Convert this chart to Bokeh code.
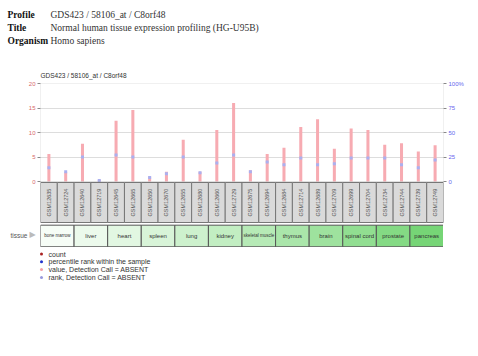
import math
from bokeh.plotting import figure
from bokeh.layouts import column, row
from bokeh.models import (ColumnDataSource, Range1d, LinearAxis, FixedTicker,
                          BoxAnnotation, Spacer)
from bokeh.core.properties import value
from bokeh.embed import file_html
from bokeh.resources import INLINE

# ---- data ----
samples = ["GSM12635", "GSM12724", "GSM12640", "GSM12719", "GSM12645", "GSM12665",
           "GSM12650", "GSM12670", "GSM12655", "GSM12680", "GSM12660", "GSM12729",
           "GSM12675", "GSM12694", "GSM12684", "GSM12714", "GSM12689", "GSM12709",
           "GSM12699", "GSM12704", "GSM12734", "GSM12744", "GSM12739", "GSM12749"]
counts = [5.6, 1.9, 7.7, 0.35, 12.4, 14.6, 1.0, 2.0, 8.5, 2.0, 10.5, 16.0,
          2.3, 5.6, 6.9, 11.1, 12.7, 6.7, 10.8, 10.5, 7.5, 7.8, 6.1, 7.4]
ranks = [14, 10, 25, 1, 27, 25, 4, 8, 25, 9, 19, 27,
         10, 20, 17, 24, 17, 18, 24, 24, 24, 17, 14, 22]
tissues = ["bone marrow", "liver", "heart", "spleen", "lung", "kidney",
           "skeletal muscle", "thymus", "brain", "spinal cord", "prostate", "pancreas"]
left_ticks = [0, 5, 10, 15, 20]
right_ticks = [0, 25, 50, 75, 100]
legend_items = ["count", "percentile rank within the sample",
                "value, Detection Call = ABSENT", "rank, Detection Call = ABSENT"]
header_keys = ["Profile", "Title", "Organism"]
header_vals = ["GDS423 / 58106_at / C8orf48",
               "Normal human tissue expression profiling (HG-U95B)", "Homo sapiens"]
chart_title = "GDS423 / 58106_at / C8orf48"

# ---- styles ----
tissue_colors = ["#f6fdf6", "#ecfaec", "#e2f7e2", "#d8f4d8", "#cdf1cd", "#c2eec2",
                 "#b6eab6", "#aae6aa", "#9ee29e", "#91de91", "#84da84", "#76d576"]
legend_colors = ["#aa2222", "#2233cc", "#f4a0a8", "#9999dd"]

W = 478
HEAD_H = 80
FRAME_L, FRAME_R = 40, 443
FRAME_T, MAIN_B = 83, 223
TIS_B = 247
ZERO_Y = 181.0
PX_PER_UNIT = (ZERO_Y - FRAME_T) / 20.0
ybot = -(MAIN_B - ZERO_Y) / PX_PER_UNIT
n = len(samples)


def blank(width, height, yr):
    f = figure(width=width, height=height, output_backend="svg", toolbar_location=None,
               x_range=Range1d(0, width), y_range=yr, min_border=0)
    f.axis.visible = False
    f.grid.visible = False
    f.outline_line_color = None
    return f


# ---- header ----
hdr = blank(W, HEAD_H, Range1d(HEAD_H, 0))
hsrc = ColumnDataSource(dict(k=header_keys, v=header_vals, y=[14, 27, 40]))
hdr.text(x=7, y="y", text="k", source=hsrc, text_font=value("Liberation Serif"),
         text_font_style="bold", text_font_size="9.5px", text_color="#111111",
         text_baseline="middle")
hdr.text(x=50, y="y", text="v", source=hsrc, text_font=value("Liberation Serif"),
         text_font_size="9.5px", text_color="#333333", text_baseline="middle")
hdr.text(x=[40], y=[74.5], text=[chart_title], text_font=value("Liberation Sans"),
         text_font_size="6.5px", text_color="#333333", text_baseline="middle")

# ---- main chart ----
p = figure(width=W, height=MAIN_B - HEAD_H, output_backend="svg", toolbar_location=None,
           x_range=Range1d(0, n), y_range=Range1d(ybot, 20),
           min_border_left=FRAME_L, min_border_right=W - FRAME_R,
           min_border_top=FRAME_T - HEAD_H, min_border_bottom=0)
p.outline_line_color = None
p.xaxis.visible = False
p.yaxis.visible = False
p.xgrid.visible = False
p.extra_y_ranges = {"pct": Range1d(ybot * 5, 100)}

for ax, col, side in ((LinearAxis(ticker=FixedTicker(ticks=left_ticks)),
                       "#d66a6a", "left"),
                      (LinearAxis(y_range_name="pct",
                                  ticker=FixedTicker(ticks=right_ticks)),
                       "#6666ee", "right")):
    ax.axis_line_color = None
    ax.major_tick_line_color = "#888888"
    ax.major_tick_in = 0
    ax.major_tick_out = 3
    ax.minor_tick_line_color = None
    ax.major_label_text_color = col
    ax.major_label_text_font = "Liberation Sans"
    ax.major_label_text_font_size = "6px"
    ax.major_label_standoff = 2
    if side == "right":
        ax.major_label_overrides = {100: "100%"}
    p.add_layout(ax, side)

p.ygrid.ticker = FixedTicker(ticks=[5, 10, 15])
p.ygrid.grid_line_color = "#dddddd"
p.add_layout(BoxAnnotation(bottom=0, top=20, fill_color=None,
                           line_color="#999999", line_width=1))

xs = [i + 0.5 for i in range(n)]
src = ColumnDataSource(dict(x=xs, count=counts, rank=ranks, name=samples,
                            left=list(range(n)), right=[i + 1 for i in range(n)]))
p.vbar(x="x", top="count", bottom=0, width=0.18, source=src,
       fill_color="#f7abb2", line_color=None)
p.scatter(x="x", y="rank", source=src, y_range_name="pct", marker="square",
          size=3, fill_color="#aab0f0", line_color=None)

box_top = -(182 - ZERO_Y) / PX_PER_UNIT
box_bot = -(222 - ZERO_Y) / PX_PER_UNIT
p.quad(left="left", right="right", top=box_top, bottom=box_bot, source=src,
       fill_color="#dadada", line_color="#777777", line_width=1)
p.text(x="x", y=(box_top + box_bot) / 2, text="name", source=src, angle=math.pi / 2,
       text_align="center", text_baseline="middle", text_color="#555555",
       text_font=value("Liberation Sans"), text_font_size="5.5px")

# ---- tissue row ----
TH = TIS_B - MAIN_B
tl = blank(FRAME_L, TH, Range1d(0, 1))
tl.text(x=[10], y=[0.5], text=["tissue"], text_font=value("Liberation Sans"),
        text_font_size="6.5px", text_color="#555555", text_baseline="middle")
tl.text(x=[29], y=[0.55], text=["\u25B6"], text_font=value("DejaVu Sans"),
        text_font_size="8px", text_color="#bbbbbb", text_baseline="middle")

tf = figure(width=FRAME_R - FRAME_L, height=TH, output_backend="svg",
            toolbar_location=None, x_range=p.x_range, y_range=Range1d(0, 1),
            min_border=0)
tf.axis.visible = False
tf.grid.visible = False
tf.outline_line_color = None
tsrc = ColumnDataSource(dict(
    left=[2 * k for k in range(len(tissues))],
    right=[2 * k + 2 for k in range(len(tissues))],
    xc=[2 * k + 1 for k in range(len(tissues))],
    name=tissues, color=tissue_colors,
    fs=["4.5px" if t in ("bone marrow", "skeletal muscle") else "6px"
        for t in tissues]))
tf.quad(left="left", right="right", top=0.93, bottom=0.03, fill_color="color",
        line_color="#555555", line_width=1, source=tsrc)
tf.text(x="xc", y=0.48, text="name", source=tsrc, text_align="center",
        text_baseline="middle", text_color="#333333",
        text_font=value("Liberation Sans"), text_font_size="fs")

tissue_row = row(tl, tf, Spacer(width=W - FRAME_R, height=TH))

# ---- legend ----
LH = 356 - TIS_B
lg = blank(W, LH, Range1d(LH, 0))
lsrc = ColumnDataSource(dict(t=legend_items, c=legend_colors,
                             y=[253.5 - TIS_B + k * 7.8 for k in range(4)]))
lg.scatter(x=41, y="y", source=lsrc, marker="circle", size=3, fill_color="c",
           line_color=None)
lg.text(x=48, y="y", text="t", source=lsrc, text_font=value("Liberation Sans"),
        text_font_size="7px", text_color="#333333", text_baseline="middle")

layout = column(row(hdr), p, tissue_row, row(lg))
open("out.html", "w").write(file_html(layout, INLINE))
